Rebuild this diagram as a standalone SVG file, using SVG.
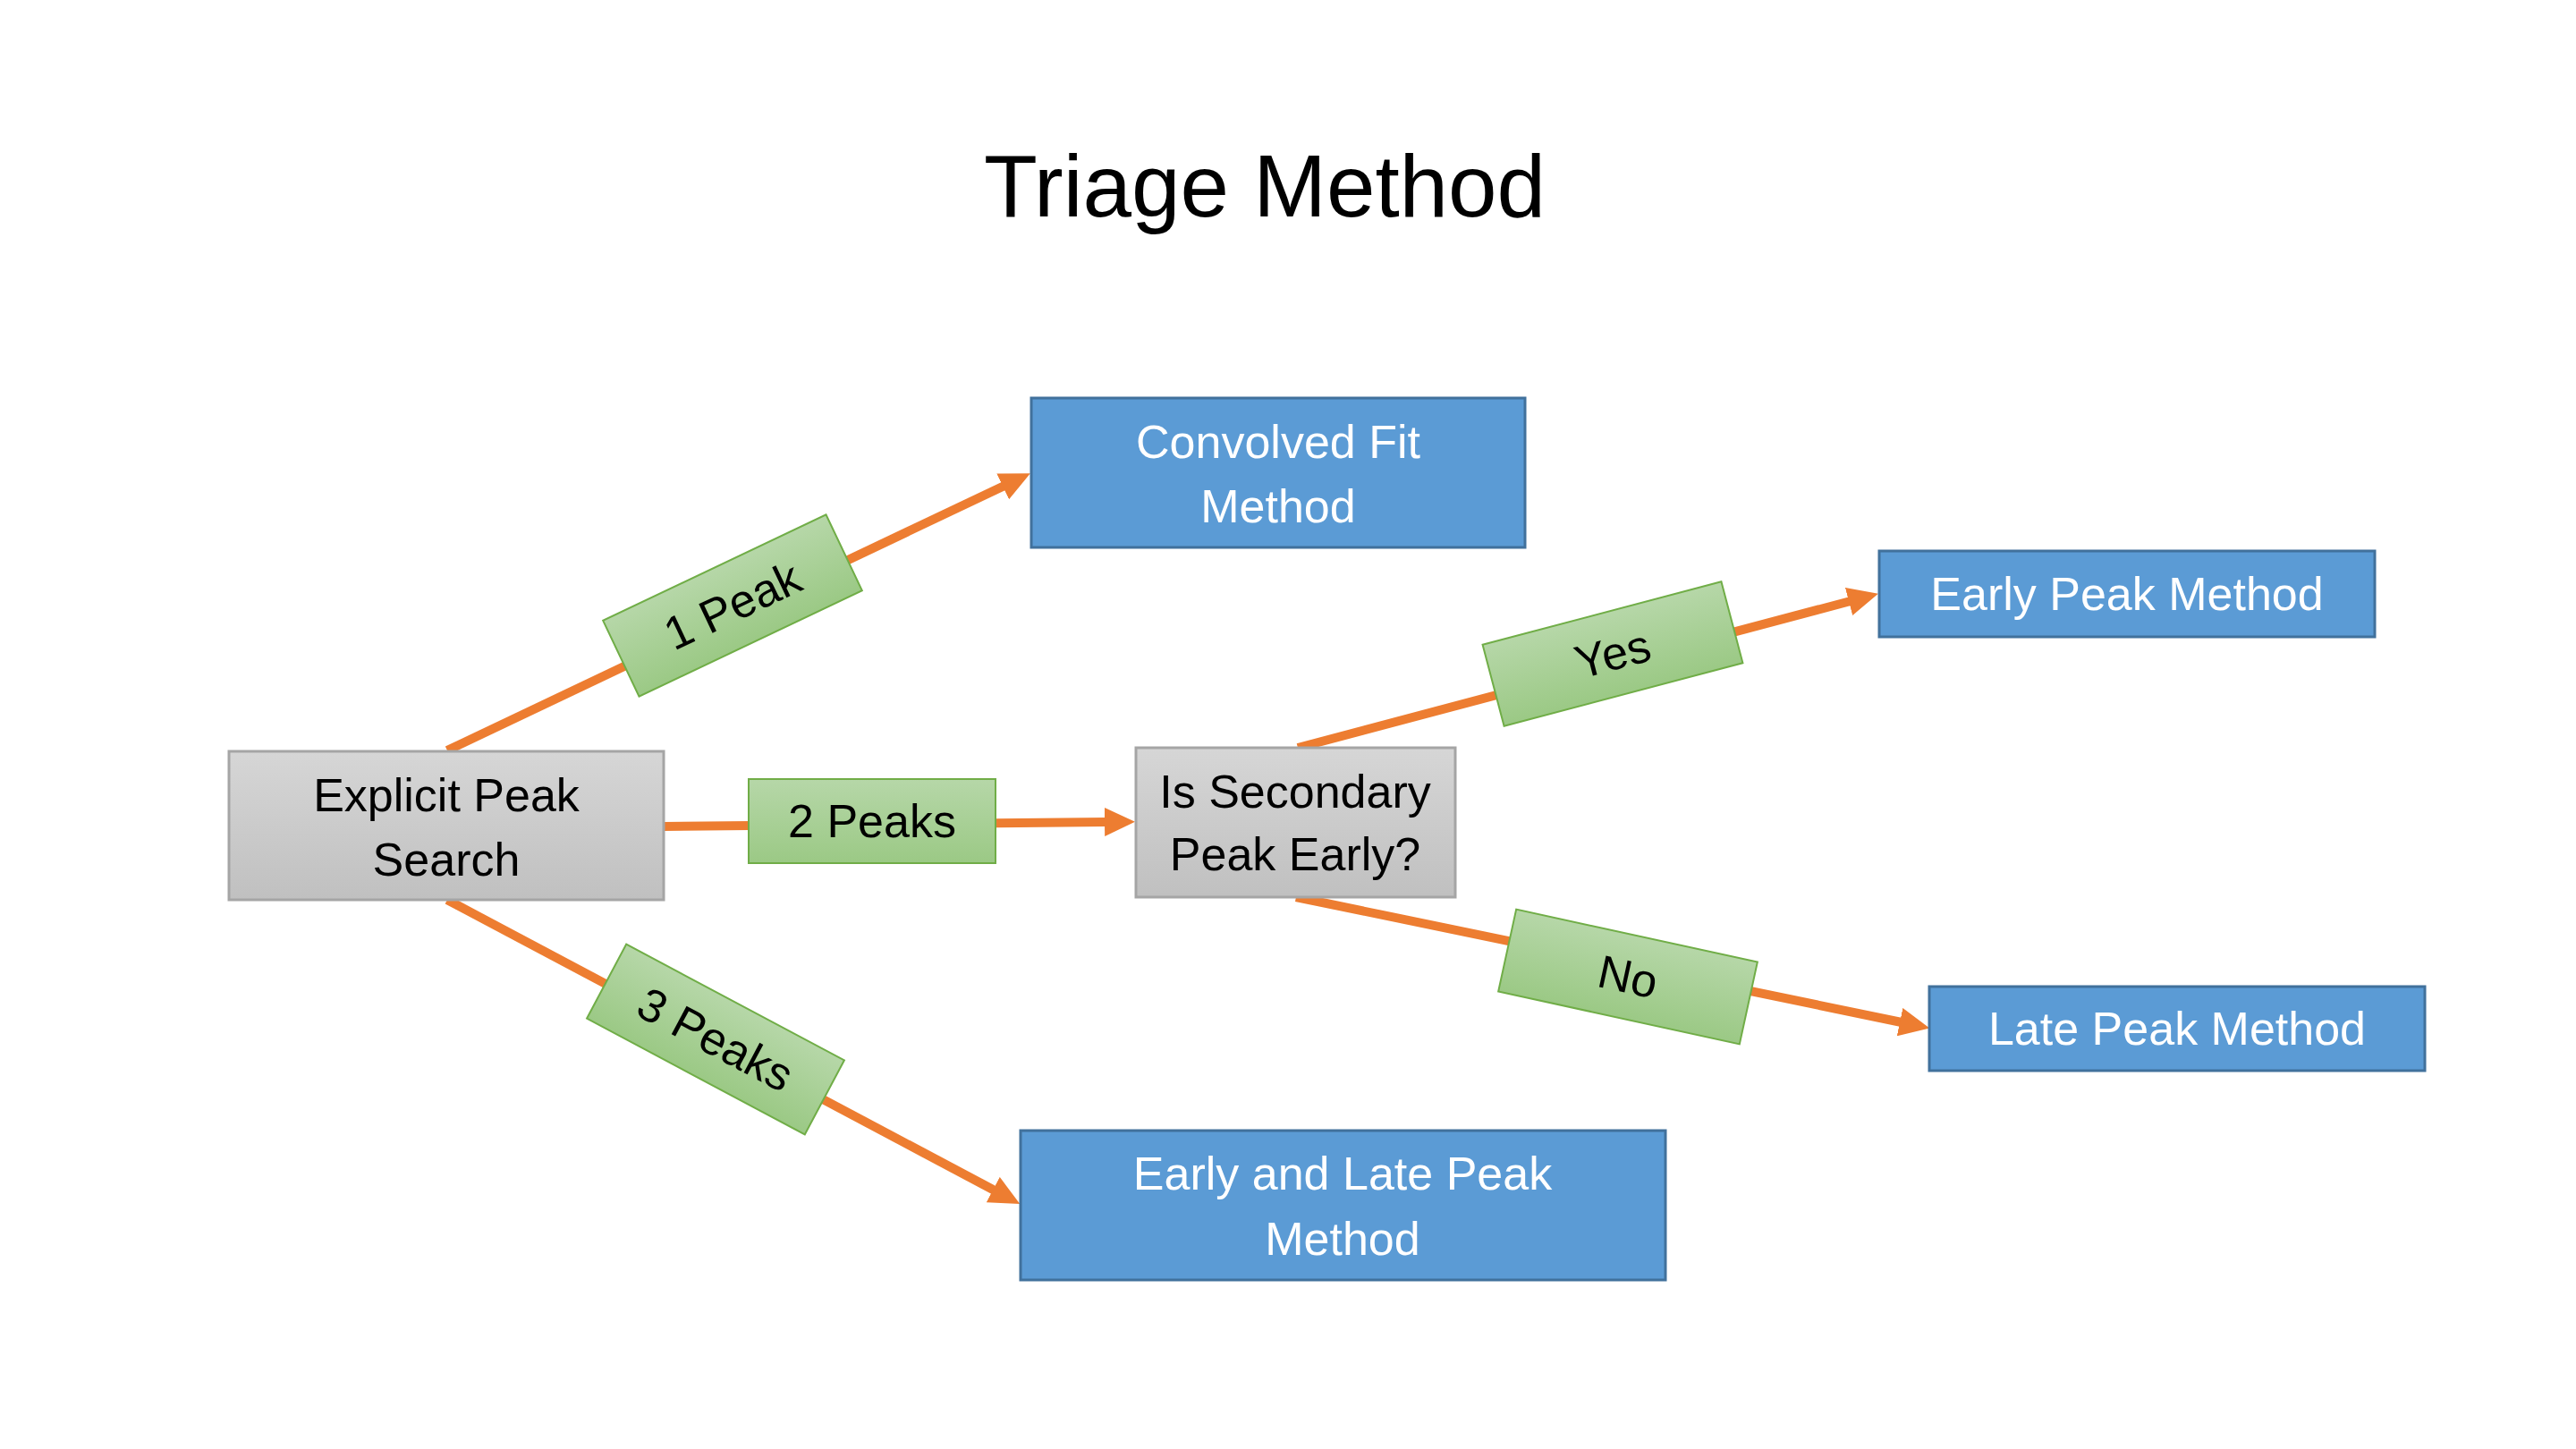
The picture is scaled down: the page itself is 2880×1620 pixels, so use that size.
<svg xmlns="http://www.w3.org/2000/svg" width="2880" height="1620" viewBox="0 0 2880 1620">
  <defs>
    <linearGradient id="grayGrad" x1="0" y1="0" x2="0" y2="1">
      <stop offset="0" stop-color="#d6d6d6"/>
      <stop offset="1" stop-color="#c0c0c0"/>
    </linearGradient>
    <linearGradient id="greenGrad" x1="0" y1="0" x2="0" y2="1">
      <stop offset="0" stop-color="#b6d7a8"/>
      <stop offset="1" stop-color="#9bc985"/>
    </linearGradient>
    <marker id="arrow" markerUnits="userSpaceOnUse" markerWidth="34" markerHeight="32" viewBox="0 0 34 32" refX="2" refY="16" orient="auto">
      <path d="M0,0 L34,16 L0,32 z" fill="#ed7d31"/>
    </marker>
  </defs>
  <style>
    text { font-family: "Liberation Sans", Arial, sans-serif; font-size: 52px; text-anchor: middle; }
    .title { font-size: 98px; fill: #000000; }
    .gray { fill: url(#grayGrad); stroke: #a5a5a5; stroke-width: 3; }
    .blue { fill: #5b9bd5; stroke: #41719c; stroke-width: 3; }
    .label { fill: url(#greenGrad); stroke: #70ad47; stroke-width: 2; }
    .dark { fill: #000000; }
    .light { fill: #ffffff; }
    .conn { stroke: #ed7d31; stroke-width: 10; fill: none; marker-end: url(#arrow); }
  </style>
  <rect width="2880" height="1620" fill="#ffffff"/>

  <text class="title" x="1414" y="242">Triage Method</text>

  <g id="connectors">
    <line class="conn" x1="500" y1="839" x2="1123" y2="543"/>
    <line class="conn" x1="742" y1="924" x2="1237" y2="919"/>
    <line class="conn" x1="500" y1="1006" x2="1112" y2="1331"/>
    <line class="conn" x1="1451" y1="836" x2="2069" y2="672"/>
    <line class="conn" x1="1449" y1="1003" x2="2126" y2="1143"/>
  </g>

  <g id="edge-labels">
    <g id="label-1peak" transform="translate(819,677) rotate(-25.4)">
      <rect class="label" x="-138" y="-47" width="276" height="94"/>
      <text class="dark" x="0" y="18">1 Peak</text>
    </g>
    <g id="label-2peaks" transform="translate(975,918)">
      <rect class="label" x="-138" y="-47" width="276" height="94"/>
      <text class="dark" x="0" y="18">2 Peaks</text>
    </g>
    <g id="label-3peaks" transform="translate(800,1162) rotate(28)">
      <rect class="label" x="-138" y="-47" width="276" height="94"/>
      <text class="dark" x="0" y="18">3 Peaks</text>
    </g>
    <g id="label-yes" transform="translate(1803,731) rotate(-14.8)">
      <rect class="label" x="-138" y="-47" width="276" height="94"/>
      <text class="dark" x="0" y="18">Yes</text>
    </g>
    <g id="label-no" transform="translate(1820,1092) rotate(12.3)">
      <rect class="label" x="-138" y="-47" width="276" height="94"/>
      <text class="dark" x="0" y="18">No</text>
    </g>
  </g>

  <g id="node-explicit">
    <rect class="gray" x="256" y="840" width="486" height="166"/>
    <text class="dark" x="499" y="907">Explicit Peak</text>
    <text class="dark" x="499" y="979">Search</text>
  </g>
  <g id="node-convolved">
    <rect class="blue" x="1153" y="445" width="552" height="167"/>
    <text class="light" x="1429" y="512">Convolved Fit</text>
    <text class="light" x="1429" y="584">Method</text>
  </g>
  <g id="node-secondary">
    <rect class="gray" x="1270" y="836" width="357" height="167"/>
    <text class="dark" x="1448" y="903">Is Secondary</text>
    <text class="dark" x="1448" y="973">Peak Early?</text>
  </g>
  <g id="node-early">
    <rect class="blue" x="2101" y="616" width="554" height="96"/>
    <text class="light" x="2378" y="682">Early Peak Method</text>
  </g>
  <g id="node-late">
    <rect class="blue" x="2157" y="1103" width="554" height="94"/>
    <text class="light" x="2434" y="1168">Late Peak Method</text>
  </g>
  <g id="node-earlylate">
    <rect class="blue" x="1141" y="1264" width="721" height="167"/>
    <text class="light" x="1501" y="1330">Early and Late Peak</text>
    <text class="light" x="1501" y="1403">Method</text>
  </g>
</svg>
